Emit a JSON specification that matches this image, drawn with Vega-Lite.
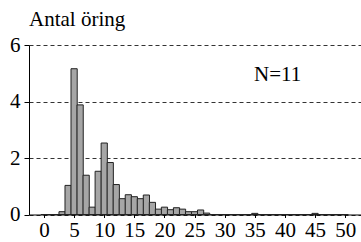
{
  "$schema": "https://vega.github.io/schema/vega-lite/v6.json",
  "autosize": "none",
  "width": 332,
  "height": 169.5,
  "padding": {"left": 29, "top": 45, "right": 0, "bottom": 27.5},
  "background": "white",
  "title": {"text": "Antal öring", "anchor": "start", "frame": "group", "font": "Liberation Serif, Times New Roman, serif", "fontSize": 21, "fontWeight": "normal", "color": "black", "offset": 4, "dx": 0},
  "config": {
    "view": {"stroke": null}
  },
  "layer": [
    {
      "data": {"values": [
        {"len": 0, "n": 0}, {"len": 1, "n": 0}, {"len": 2, "n": 0}, {"len": 3, "n": 0.1},
        {"len": 4, "n": 1.03}, {"len": 5, "n": 5.16}, {"len": 6, "n": 3.88}, {"len": 7, "n": 1.39},
        {"len": 8, "n": 0.26}, {"len": 9, "n": 1.53}, {"len": 10, "n": 2.53}, {"len": 11, "n": 1.84},
        {"len": 12, "n": 1.06}, {"len": 13, "n": 0.56}, {"len": 14, "n": 0.7}, {"len": 15, "n": 0.63},
        {"len": 16, "n": 0.56}, {"len": 17, "n": 0.69}, {"len": 18, "n": 0.43}, {"len": 19, "n": 0.19},
        {"len": 20, "n": 0.26}, {"len": 21, "n": 0.17}, {"len": 22, "n": 0.24}, {"len": 23, "n": 0.19},
        {"len": 24, "n": 0.1}, {"len": 25, "n": 0.1}, {"len": 26, "n": 0.16}, {"len": 27, "n": 0.05},
        {"len": 28, "n": 0}, {"len": 29, "n": 0}, {"len": 30, "n": 0}, {"len": 31, "n": 0},
        {"len": 32, "n": 0}, {"len": 33, "n": 0}, {"len": 34, "n": 0}, {"len": 35, "n": 0.04},
        {"len": 36, "n": 0}, {"len": 37, "n": 0}, {"len": 38, "n": 0}, {"len": 39, "n": 0},
        {"len": 40, "n": 0}, {"len": 41, "n": 0}, {"len": 42, "n": 0}, {"len": 43, "n": 0},
        {"len": 44, "n": 0}, {"len": 45, "n": 0.04}, {"len": 46, "n": 0}, {"len": 47, "n": 0},
        {"len": 48, "n": 0}, {"len": 49, "n": 0}, {"len": 50, "n": 0}
      ]},
      "mark": {"type": "bar", "size": 6.2, "fill": "#a6a6a6", "stroke": "#222222", "strokeWidth": 1},
      "encoding": {
        "x": {"field": "len", "type": "quantitative", "title": null, "scale": {"domain": [-1.66, 51.8], "nice": false, "zero": false},
              "axis": {"values": [0, 5, 10, 15, 20, 25, 30, 35, 40, 45, 50], "tickCount": 11, "grid": false, "tickSize": 3, "labelPadding": 2, "labelFlush": false, "labelOverlap": false, "labelSeparation": 0, "labelBound": false, "labelFont": "Liberation Serif, Times New Roman, serif", "labelFontSize": 21, "labelColor": "black", "domainColor": "black", "tickColor": "black"}},
        "y": {"field": "n", "type": "quantitative", "title": null, "scale": {"domain": [0, 6], "nice": false},
              "axis": {"values": [0, 2, 4, 6], "grid": true, "gridColor": "#333333", "gridDash": [4, 3], "gridWidth": 1, "tickSize": 5, "labelPadding": 4, "labelFlush": false, "labelOverlap": false, "labelFont": "Liberation Serif, Times New Roman, serif", "labelFontSize": 21, "labelColor": "black", "domainColor": "black", "tickColor": "black"}}
      }
    },
    {
      "data": {"values": [{"x": 38.8, "y": 4.74, "label": "N=11"}]},
      "mark": {"type": "text", "font": "Liberation Serif, Times New Roman, serif", "fontSize": 21, "color": "black", "baseline": "alphabetic", "align": "center"},
      "encoding": {
        "x": {"field": "x", "type": "quantitative"},
        "y": {"field": "y", "type": "quantitative"},
        "text": {"field": "label"}
      }
    }
  ]
}
